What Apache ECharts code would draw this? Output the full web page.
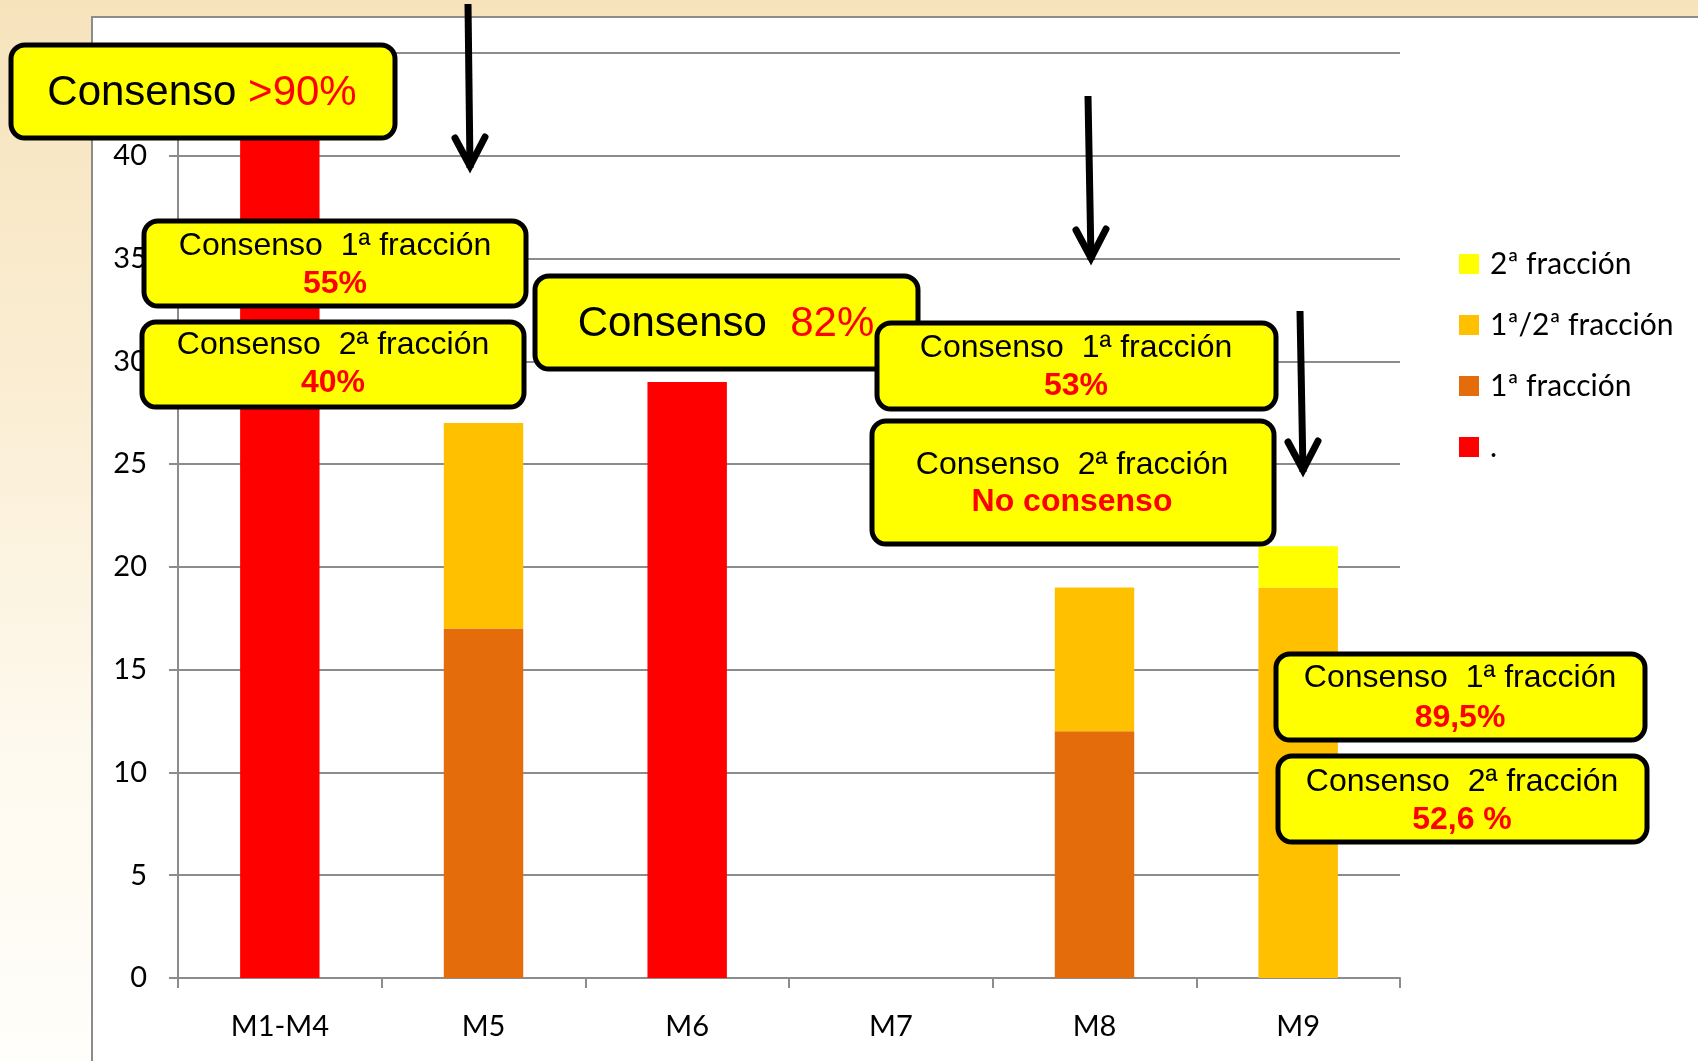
<!DOCTYPE html>
<html>
<head>
<meta charset="utf-8">
<script src="https://cdn.jsdelivr.net/npm/echarts@6/dist/echarts.min.js"></script>
<style>
  html, body { margin: 0; padding: 0; width: 1698px; height: 1061px; overflow: hidden; }
  body { background: linear-gradient(180deg, #F6E3BC 0%, #FAEDD2 35%, #FEF9EE 70%, #FFFEFA 100%); }
  #chart { position: absolute; left: 0; top: 0; width: 1698px; height: 1061px; }
</style>
</head>
<body>
<div id="chart"></div>
<script>
// ---- data ----
const categories = ['M1-M4', 'M5', 'M6', 'M7', 'M8', 'M9'];
const seriesNames = ['.', '1ª fracción', '1ª/2ª fracción', '2ª fracción'];
const valuesRed = [44, 0, 29, 0, 0, 0];
const valuesFirst = [0, 17, 0, 0, 12, 0];
const valuesFirstSecond = [0, 10, 0, 0, 7, 19];
const valuesSecond = [0, 0, 0, 0, 0, 2];
const yTicks = { min: 0, max: 45, interval: 5 };

const colors = ['#FF0000', '#E46C0A', '#FFC000', '#FFFF00'];
const seriesValues = [valuesRed, valuesFirst, valuesFirstSecond, valuesSecond];

const chart = echarts.init(document.getElementById('chart'), null, { renderer: 'canvas' });

const ARIAL = '"Liberation Sans", Arial, sans-serif';
function box(x, y, w, h) {
  return { type: 'rect', z: 100, shape: { x: x, y: y, width: w, height: h, r: 14 },
           style: { fill: '#FFFF00', stroke: '#000', lineWidth: 5 } };
}
function line(text, x, y, color, bold, size) {
  return { type: 'text', z: 101, style: { text: text, x: x, y: y, fill: color,
           font: (bold ? 'bold ' : '') + size + 'px ' + ARIAL, textAlign: 'center', textVerticalAlign: 'middle' } };
}
function richLine(a, b, x, y, size) {
  return { type: 'text', z: 101, style: { text: '{a|' + a + '}{b|' + b + '}', x: x, y: y,
           textAlign: 'center', textVerticalAlign: 'middle',
           rich: { a: { fill: '#000', fontSize: size, fontFamily: ARIAL }, b: { fill: '#FF0000', fontSize: size, fontFamily: ARIAL } } } };
}
function arrow(x1, y1, x2, y2) {
  return [
    { type: 'polyline', z: 102, shape: { points: [[x1, y1], [x2, y2]] }, style: { stroke: '#000', lineWidth: 7, lineCap: 'butt' } },
    { type: 'polyline', z: 102, shape: { points: [[x2 - 15, y2 - 30], [x2, y2 - 2], [x2 + 15, y2 - 31]] },
      style: { stroke: '#000', lineWidth: 7, fill: null, lineCap: 'round', lineJoin: 'miter' } }
  ];
}

const graphics = [
  { type: 'rect', z: -100, silent: true, shape: { x: 92, y: 17, width: 1620, height: 1100 },
    style: { fill: '#FFFFFF', stroke: '#8C8C8C', lineWidth: 2 } },
  // box 1
  box(11, 45, 384, 93), richLine('Consenso ', '>90%', 202, 93, 42),
  // box 2 & 3
  box(144, 221, 382, 85), line('Consenso  1ª fracción', 335, 246, '#000', false, 32), line('55%', 335, 284, '#FF0000', true, 32),
  box(142, 322, 382, 85), line('Consenso  2ª fracción', 333, 345, '#000', false, 32), line('40%', 333, 383, '#FF0000', true, 32),
  // box 4
  box(535, 276, 383, 93), richLine('Consenso  ', '82%', 726, 324, 42),
  // box 5 & 6
  box(877, 323, 399, 86), line('Consenso  1ª fracción', 1076, 348, '#000', false, 32), line('53%', 1076, 386, '#FF0000', true, 32),
  box(872, 421, 402, 123), line('Consenso  2ª fracción', 1072, 465, '#000', false, 32), line('No consenso', 1072, 502, '#FF0000', true, 32),
  // box 7 & 8
  box(1276, 654, 369, 86), line('Consenso  1ª fracción', 1460, 678, '#000', false, 32), line('89,5%', 1460, 718, '#FF0000', true, 32),
  box(1278, 756, 369, 86), line('Consenso  2ª fracción', 1462, 782, '#000', false, 32), line('52,6 %', 1462, 820, '#FF0000', true, 32)
].concat(arrow(468, 4, 470, 168), arrow(1088, 96, 1091, 260), arrow(1300, 311, 1303, 472));

const option = {
  backgroundColor: 'transparent',
  animation: false,
  textStyle: { fontFamily: 'Lato' },
  grid: { left: 178, right: 298, top: 53, bottom: 83, containLabel: false },
  legend: {
    orient: 'vertical', left: 1459, top: 249, padding: 0,
    itemWidth: 20, itemHeight: 20, itemGap: 31,
    icon: 'rect',
    data: ['2ª fracción', '1ª/2ª fracción', '1ª fracción', '.'],
    textStyle: { fontFamily: 'Lato', fontSize: 30, color: '#000', lineHeight: 20, padding: [0, 0, 0, 6] }
  },
  xAxis: {
    type: 'category', data: categories,
    axisLine: { lineStyle: { color: '#8C8C8C', width: 2 } },
    axisTick: { show: true, length: 10, lineStyle: { color: '#8C8C8C', width: 2 } },
    axisLabel: { fontFamily: 'Lato', fontSize: 29, color: '#000', margin: 34 },
    splitLine: { show: false }
  },
  yAxis: {
    type: 'value', min: yTicks.min, max: yTicks.max, interval: yTicks.interval,
    axisLine: { show: true, lineStyle: { color: '#8C8C8C', width: 2 } },
    axisTick: { show: true, length: 9, lineStyle: { color: '#8C8C8C', width: 2 } },
    axisLabel: { fontFamily: 'Lato', fontSize: 29, color: '#000', margin: 31, showMaxLabel: false },
    splitLine: { show: true, lineStyle: { color: '#8C8C8C', width: 2 } }
  },
  series: seriesNames.map((n, i) => ({
    name: n, type: 'bar', stack: 'total', barWidth: '39%',
    itemStyle: { color: colors[i] },
    data: seriesValues[i]
  })),
  graphic: graphics
};
chart.setOption(option);
</script>
</body>
</html>
